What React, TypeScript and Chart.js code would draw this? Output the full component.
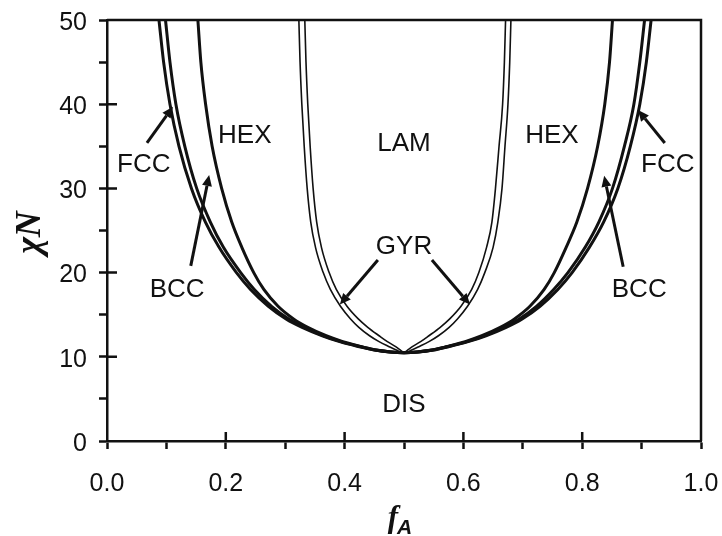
import React, { useEffect, useRef } from 'react';
import { Chart, registerables } from 'chart.js';

Chart.register(...registerables);

// chiN levels at which the boundary positions f_A were read (top to bottom)
const chiLevels = [50, 45, 40, 35, 30, 26, 23, 20, 18, 16, 14.5, 13.5, 12.5, 11.8, 11.2, 10.8];
const critF = 0.5;
const critChiN = 10.495;

// left / right branches of each phase boundary (f_A at each chiN level)
const disFccLeft = [0.0875, 0.0953, 0.106, 0.1212, 0.1422, 0.1657, 0.1887, 0.2179, 0.2416, 0.2717, 0.3014, 0.3285, 0.3625, 0.3917, 0.425, 0.45];
const disFccRight = [0.916, 0.908, 0.897, 0.881, 0.860, 0.836, 0.812, 0.783, 0.759, 0.729, 0.699, 0.672, 0.638, 0.608, 0.575, 0.55];
const fccBccLeft = [0.0985, 0.106, 0.116, 0.131, 0.151, 0.174, 0.196, 0.225, 0.248, 0.277, 0.306, 0.332, 0.365, 0.394, 0.427, 0.452];
const fccBccRight = [0.905, 0.897, 0.887, 0.871, 0.851, 0.828, 0.805, 0.776, 0.752, 0.723, 0.694, 0.668, 0.635, 0.606, 0.573, 0.548];
const bccHexLeft = [0.153, 0.158, 0.166, 0.177, 0.193, 0.210, 0.227, 0.247, 0.264, 0.288, 0.314, 0.338, 0.369, 0.397, 0.429, 0.453];
const bccHexRight = [0.851, 0.846, 0.838, 0.826, 0.809, 0.791, 0.773, 0.753, 0.736, 0.712, 0.686, 0.662, 0.631, 0.603, 0.571, 0.547];
const hexGyrLeft = [0.323, 0.325, 0.328, 0.332, 0.337, 0.343, 0.351, 0.364, 0.376, 0.393, 0.410, 0.424, 0.442, 0.458, 0.475, 0.487];
const hexGyrRight = [0.680, 0.678, 0.675, 0.670, 0.665, 0.658, 0.650, 0.636, 0.624, 0.607, 0.590, 0.576, 0.558, 0.542, 0.525, 0.513];
const gyrLamLeft = [0.333, 0.335, 0.338, 0.342, 0.347, 0.353, 0.361, 0.374, 0.386, 0.404, 0.423, 0.439, 0.458, 0.472, 0.486, 0.494];
const gyrLamRight = [0.671, 0.669, 0.666, 0.660, 0.654, 0.648, 0.639, 0.626, 0.614, 0.596, 0.577, 0.561, 0.542, 0.528, 0.514, 0.506];

// region labels (cap-centre positions in data units)
const regionLabels = ['FCC', 'HEX', 'LAM', 'HEX', 'FCC', 'GYR', 'BCC', 'BCC', 'DIS'];
const labelF = [0.062, 0.232, 0.5, 0.749, 0.944, 0.5, 0.118, 0.896, 0.5];
const labelChiN = [33.0, 36.5, 35.6, 36.5, 33.1, 23.3, 18.2, 18.2, 4.5];

// arrows (tail -> head) in data units
const arrowFromF = [0.0673, 0.141, 0.939, 0.869, 0.456, 0.547];
const arrowFromChiN = [35.4, 20.8, 35.4, 20.7, 21.5, 21.5];
const arrowToF = [0.111, 0.172, 0.894, 0.837, 0.392, 0.611];
const arrowToChiN = [39.7, 31.6, 39.3, 31.5, 16.2, 16.2];

// major ticks that also cross into the plot
const xMajorInner = [0.2, 0.4, 0.6, 0.8];
const yMajorInner = [10, 20, 30, 40];

const INK = '#111';

function uCurve(left: number[], right: number[]) {
  const pts: { x: number; y: number }[] = [];
  left.forEach((f, i) => pts.push({ x: f, y: chiLevels[i] }));
  pts.push({ x: critF, y: critChiN });
  for (let i = right.length - 1; i >= 0; i--) pts.push({ x: right[i], y: chiLevels[i] });
  return pts;
}

function drawArrow(ctx: CanvasRenderingContext2D, x1: number, y1: number, x2: number, y2: number) {
  const ang = Math.atan2(y2 - y1, x2 - x1);
  const head = 11;
  const hw = 5;
  const bx = x2 - head * Math.cos(ang);
  const by = y2 - head * Math.sin(ang);
  ctx.lineWidth = 3;
  ctx.beginPath();
  ctx.moveTo(x1, y1);
  ctx.lineTo(bx, by);
  ctx.stroke();
  ctx.beginPath();
  ctx.moveTo(x2, y2);
  ctx.lineTo(bx + hw * Math.sin(ang), by - hw * Math.cos(ang));
  ctx.lineTo(bx - hw * Math.sin(ang), by + hw * Math.cos(ang));
  ctx.closePath();
  ctx.fill();
}

const decorPlugin = {
  id: 'decor',
  afterDraw(chart: any) {
    const { ctx, chartArea: a, scales } = chart;
    const xs = scales.x;
    const ys = scales.y;
    ctx.save();
    ctx.strokeStyle = INK;
    ctx.fillStyle = INK;
    ctx.lineCap = 'butt';
    // frame
    ctx.lineWidth = 2.5;
    ctx.beginPath();
    ctx.moveTo(a.left, a.top);
    ctx.lineTo(a.right, a.top);
    ctx.lineTo(a.right, a.bottom);
    ctx.stroke();
    // inner part of major ticks
    ctx.beginPath();
    yMajorInner.forEach((v) => {
      const p = ys.getPixelForValue(v);
      ctx.moveTo(a.left, p);
      ctx.lineTo(a.left + 10, p);
    });
    xMajorInner.forEach((v) => {
      const p = xs.getPixelForValue(v);
      ctx.moveTo(p, a.bottom);
      ctx.lineTo(p, a.bottom - 9);
    });
    ctx.stroke();
    // region labels
    const size = 26;
    ctx.font = `${size}px "Liberation Sans", Arial, sans-serif`;
    ctx.textAlign = 'center';
    ctx.textBaseline = 'alphabetic';
    regionLabels.forEach((t, i) => {
      const px = xs.getPixelForValue(labelF[i]);
      const py = ys.getPixelForValue(labelChiN[i]);
      ctx.fillText(t, px, py + size * 0.358);
    });
    // arrows
    arrowFromF.forEach((_, i) => {
      drawArrow(
        ctx,
        xs.getPixelForValue(arrowFromF[i]),
        ys.getPixelForValue(arrowFromChiN[i]),
        xs.getPixelForValue(arrowToF[i]),
        ys.getPixelForValue(arrowToChiN[i])
      );
    });
    // x title f_A
    const cx = (a.left + a.right) / 2 - 4;
    ctx.textAlign = 'left';
    ctx.font = 'bold italic 31px "Liberation Serif", "Times New Roman", serif';
    const fw = ctx.measureText('f').width;
    ctx.font = 'bold italic 21px "Liberation Sans", Arial, sans-serif';
    const aw = ctx.measureText('A').width;
    const total = fw + aw - 1;
    const sx = cx - total / 2;
    ctx.font = 'bold italic 31px "Liberation Serif", "Times New Roman", serif';
    ctx.fillText('f', sx, 527);
    ctx.font = 'bold italic 21px "Liberation Sans", Arial, sans-serif';
    ctx.fillText('A', sx + fw - 1, 534);
    // y title chiN
    ctx.save();
    ctx.translate(40, (a.top + a.bottom) / 2 + 2);
    ctx.rotate(-Math.PI / 2);
    ctx.textAlign = 'center';
    ctx.font = 'bold italic 36px "Liberation Serif", "Times New Roman", serif';
    ctx.fillText('\u03C7N', 0, 0);
    ctx.restore();
    ctx.restore();
  },
};

export default function App() {
  const ref = useRef<HTMLCanvasElement>(null);
  useEffect(() => {
    if (!ref.current) return;
    const thick = { borderColor: INK, borderWidth: 3, pointRadius: 0, showLine: true, fill: false, cubicInterpolationMode: 'monotone' as const };
    const thin = { borderColor: INK, borderWidth: 1.6, pointRadius: 0, showLine: true, fill: false, cubicInterpolationMode: 'monotone' as const };
    const tickFont = { family: '"Liberation Sans", Arial, sans-serif', size: 25 };
    const chart = new Chart(ref.current, {
      type: 'scatter',
      data: {
        datasets: [
          { label: 'DIS/FCC', data: uCurve(disFccLeft, disFccRight), ...thick },
          { label: 'FCC/BCC', data: uCurve(fccBccLeft, fccBccRight), ...thick },
          { label: 'BCC/HEX', data: uCurve(bccHexLeft, bccHexRight), ...thick },
          { label: 'HEX/GYR', data: uCurve(hexGyrLeft, hexGyrRight), ...thin },
          { label: 'GYR/LAM', data: uCurve(gyrLamLeft, gyrLamRight), ...thin },
        ],
      },
      options: {
        responsive: false,
        animation: false,
        layout: { padding: { left: 0, right: 21, top: 20, bottom: 0 } },
        plugins: { legend: { display: false }, tooltip: { enabled: false } },
        scales: {
          x: {
            type: 'linear',
            min: 0,
            max: 1,
            afterFit: (s: any) => {
              s.height = 95;
              s.paddingLeft = 0;
              s.paddingRight = 0;
            },
            ticks: {
              stepSize: 0.1,
              autoSkip: false,
              maxRotation: 0,
              padding: 20,
              color: INK,
              font: tickFont,
              callback: (v: any) => (Math.round(Number(v) * 10) % 2 === 0 ? Number(v).toFixed(1) : ''),
            },
            grid: { drawOnChartArea: false, tickLength: 8, tickWidth: 2.5, tickColor: INK },
            border: { color: INK, width: 2.5 },
          },
          y: {
            type: 'linear',
            min: 0,
            max: 50,
            afterFit: (s: any) => {
              s.width = 107;
              s.paddingTop = 0;
              s.paddingBottom = 0;
            },
            ticks: {
              stepSize: 5,
              autoSkip: false,
              padding: 12,
              labelOffset: 3,
              color: INK,
              font: tickFont,
              callback: (v: any) => (Math.round(Number(v)) % 10 === 0 ? String(Math.round(Number(v))) : ''),
            },
            grid: { drawOnChartArea: false, tickLength: 8, tickWidth: 2.5, tickColor: INK },
            border: { color: INK, width: 2.5 },
          },
        },
      },
      plugins: [decorPlugin],
    });
    return () => chart.destroy();
  }, []);
  return (
    <div style={{ position: 'fixed', left: 0, top: 0, width: 722, height: 536, background: '#fff' }}>
      <canvas ref={ref} width={722} height={536} style={{ display: 'block' }} />
    </div>
  );
}
